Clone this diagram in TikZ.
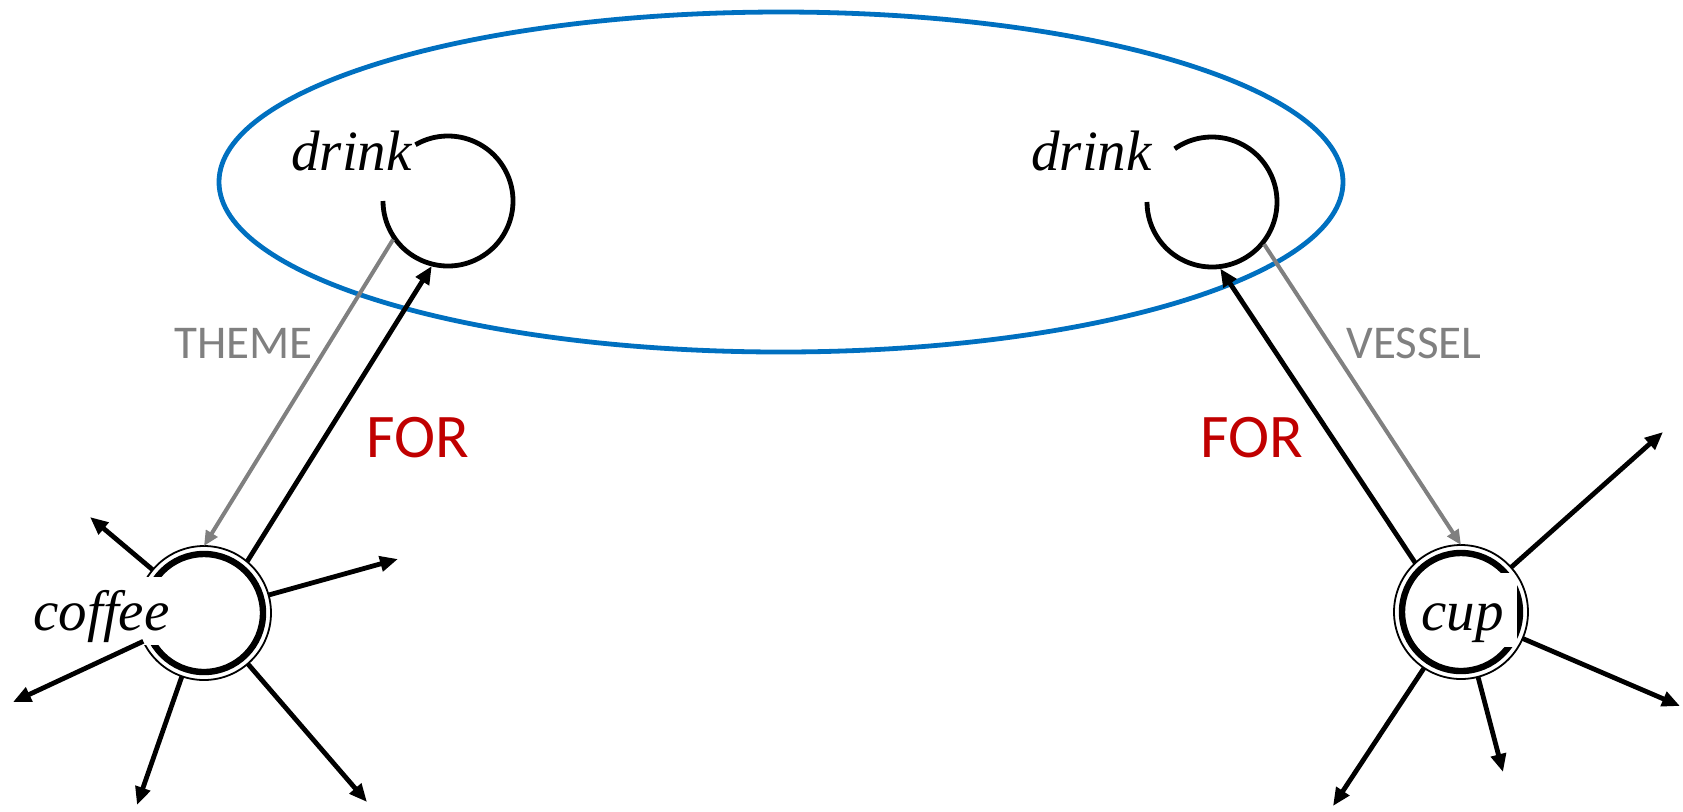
\documentclass[tikz,border=0pt]{standalone}
\usepackage{fontspec}
\setmainfont{Liberation Serif}[ItalicFont={Liberation Serif Italic}]
\newfontfamily\lblfont{Carlito}
\usetikzlibrary{arrows.meta}
\definecolor{ovalblue}{HTML}{0070C0}
\definecolor{forred}{HTML}{C00000}
\definecolor{rolegray}{HTML}{808080}

\begin{document}
\begin{tikzpicture}[x=0.5pt,y=0.5pt,
  hub/.style={circle,minimum size=67pt,inner sep=0pt,outer sep=0pt},
  word/.style={font=\fontsize{28.5}{30}\selectfont\itshape,inner sep=0pt,anchor=base west},
  spoke/.style={line width=2.4pt,-{Triangle[length=9pt,width=7.5pt]}},
  rolearrow/.style={rolegray,line width=2pt,-{Triangle[length=7.5pt,width=6.5pt]}},
  forarrow/.style={line width=2.4pt,-{Triangle[length=9pt,width=7.5pt]}},
  ring/.style={line width=2.4pt},
  thickring/.style={line width=3.2pt},
  thinring/.style={line width=0.9pt},
  rolelbl/.style={rolegray,font=\lblfont\fontsize{23.5}{25}\selectfont,inner sep=0pt,anchor=base west},
  forlbl/.style={forred,font=\lblfont\fontsize{31}{33}\selectfont,inner sep=0pt,anchor=base west}]
\useasboundingbox (0,0) rectangle (1683,-811);

% blue oval round the two drink concepts
\draw[ovalblue,line width=2.4pt] (781,-182) ellipse (562 and 170);

% drink concepts
\node[hub] (drinkL) at (448,-201) {};
\node[hub] (drinkR) at (1212,-202) {};
\draw[ring] (drinkL.center) ++(120:65) arc (120:-180:65);
\draw[ring] (drinkR.center) ++(125:65) arc (125:-180:65);
\node[word] (drinkLlbl) at (291,-170) {drink};
\node[word] (drinkRlbl) at (1031,-170) {drink};

% coffee
\node[hub] (coffee) at (204,-613) {};
\draw[thickring] (coffee.center) circle (59);
\draw[thinring] (coffee.center) circle (67);
\node[word,fill=white,text height=26.5pt,text depth=7.5pt,inner xsep=1pt] (coffeelbl) at (31,-630) {coffee};

% cup
\node[hub] (cup) at (1461,-612) {};
\draw[thickring] (cup.center) circle (59);
\node[word,fill=white,text height=28.5pt,text depth=8.5pt,inner xsep=0pt,text width=48pt,align=left] (cuplbl) at (1421,-630) {cup};
\draw[thinring] (cup.center) circle (67);

% free ends of the spokes
\coordinate (c1) at (90,-517);
\coordinate (c2) at (398,-559);
\coordinate (c3) at (13,-702);
\coordinate (c4) at (137,-805);
\coordinate (c5) at (367,-802);
\coordinate (u1) at (1663,-432);
\coordinate (u2) at (1680,-706);
\coordinate (u3) at (1503,-772);
\coordinate (u4) at (1333,-806);
\foreach \tip in {c1,c2,c3,c4,c5}
\draw[spoke] (coffee) -- (\tip);
\foreach \tip in {u1,u2,u3,u4}
\draw[spoke] (cup) -- (\tip);

% roles
\draw[rolearrow] (drinkL.215) -- (coffee.90);
\draw[forarrow] (coffee.50) -- (drinkL.256);
\draw[forarrow] (cup.133) -- (drinkR.277);
\draw[rolearrow] (drinkR.321) -- (cup.90);
\node[rolelbl] (theme) at (174,-358) {THEME};
\node[forlbl] (forL) at (366,-457) {FOR};
\node[forlbl] (forR) at (1200,-457) {FOR};
\node[rolelbl] (vessel) at (1346,-358) {VESSEL};
\end{tikzpicture}
\end{document}
